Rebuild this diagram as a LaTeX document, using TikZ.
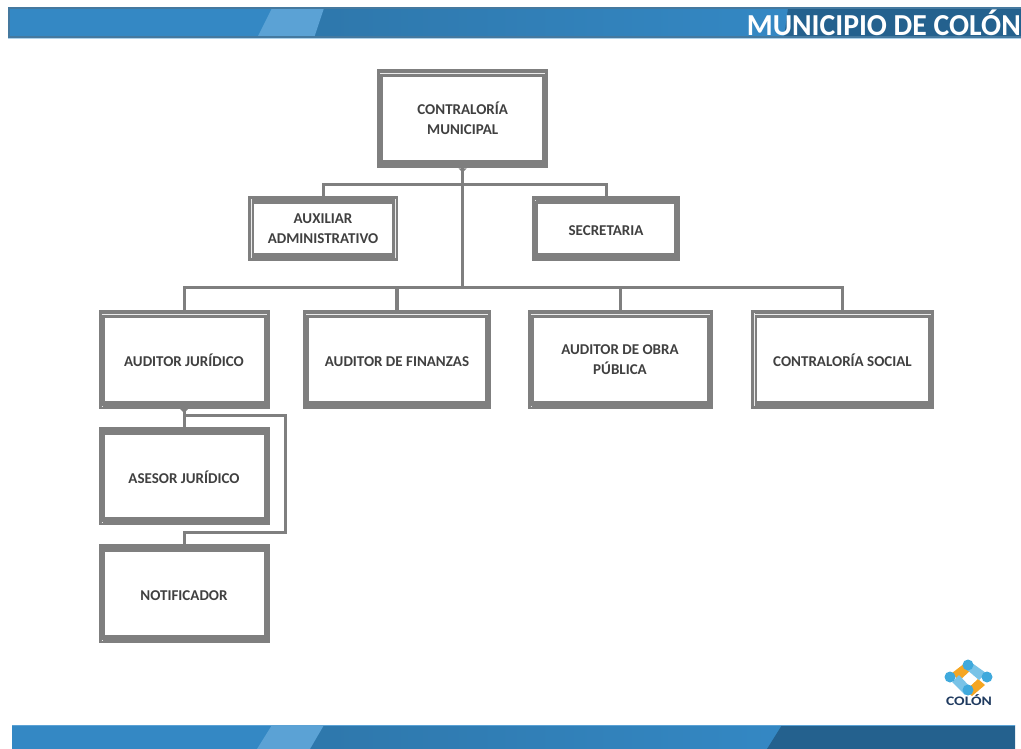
\documentclass[tikz,border=0pt]{standalone}
\usepackage{fontspec}
\setmainfont{Carlito}
\usetikzlibrary{calc, positioning}

\definecolor{boxgray}{HTML}{7F7F7F}
\definecolor{labelgray}{HTML}{404040}
\definecolor{bandblue}{HTML}{3488C4}
\definecolor{banddeep}{HTML}{2E77AB}
\definecolor{banddark}{HTML}{24618E}
\definecolor{bandlight}{HTML}{5BA2D5}
\definecolor{logoblue}{HTML}{3FA9DC}
\definecolor{logoorange}{HTML}{F5A623}
\definecolor{logonavy}{HTML}{1F3A5F}

\begin{document}
\begin{tikzpicture}[
    x=1pt, y=-1pt,
    nudge/.style={execute at begin node={\rule{0pt}{#1}}},
    orgbox/.style={fill=boxgray, text=labelgray, align=center, inner sep=0pt,
        outer sep=0pt, minimum width=171pt, minimum height=99pt, nudge=14pt,
        font=\fontsize{15}{20}\selectfont\bfseries,
        path picture={\fill[white]
            ($(path picture bounding box.south west)+(6pt,8pt)$) rectangle
            ($(path picture bounding box.north east)+(-6pt,-8pt)$);}},
    hairline/.style={draw=white!85!boxgray, line width=0.9pt},
    topline/.style={append after command={
        ([xshift=3pt,yshift=-4pt]\tikzlastnode.north west) edge[hairline]
        ([xshift=-3pt,yshift=-4pt]\tikzlastnode.north east)}},
    leftline/.style={append after command={
        ([xshift=3pt,yshift=-3pt]\tikzlastnode.north west) edge[hairline]
        ([xshift=3pt,yshift=3pt]\tikzlastnode.south west)}},
    rightline/.style={append after command={
        ([xshift=-3pt,yshift=-3pt]\tikzlastnode.north east) edge[hairline]
        ([xshift=-3pt,yshift=3pt]\tikzlastnode.south east)}},
    botdot/.style={append after command={
        ([xshift=3pt,yshift=3pt]\tikzlastnode.south west) edge[hairline]
        ([xshift=4.3pt,yshift=3pt]\tikzlastnode.south west)}},
    topdot/.style={append after command={
        ([xshift=3pt,yshift=-4pt]\tikzlastnode.north west) edge[hairline]
        ([xshift=4.3pt,yshift=-4pt]\tikzlastnode.north west)}},
    link/.style={draw=boxgray, line width=3pt}
]
\useasboundingbox (0,0) rectangle (1021,749);

% Bands
\fill[bandblue] (8,8) rectangle (300,38);
\fill[left color=banddeep, right color=bandblue] (300,8) rectangle (790,38);
\fill[bandlight] (272,8) -- (324,8) -- (314,38) -- (257,38) -- cycle;
\fill[banddark] (788,8) -- (1021,8) -- (1021,38) -- (784,38) -- cycle;
\fill[banddark!85!white] (8,7.5) rectangle (1021,9.5);
\fill[banddark!85!white] (8,36) rectangle (1021,38);
\fill[banddark!85!white] (8,7.5) rectangle (9.5,38);
\fill[bandlight!50!white] (8,38) rectangle (1021,39);
\fill[bandblue] (12,725) rectangle (300,749);
\fill[left color=banddeep, right color=bandblue] (300,725) rectangle (790,749);
\fill[bandlight] (272,725) -- (324,725) -- (310,749) -- (257,749) -- cycle;
\fill[banddark] (782,725) -- (1015,725) -- (1015,749) -- (767,749) -- cycle;
\fill[bandlight] (12,725) rectangle (1015,726);
\node[anchor=east, inner sep=0pt, text=white, xscale=.973, transform shape, font=\fontsize{30.5}{31}\selectfont\bfseries] (title) at (1021,23) {MUNICIPIO DE COLÓN};

% Logo
\fill[logoorange] (952,673) -- (965,663) -- (972,669) -- (959,681) -- cycle;
\fill[logoorange] (965,691) -- (978,679) -- (985,685) -- (972,696) -- cycle;
\fill[logoblue!70!white] (972,663) -- (986,673) -- (979,680) -- (966,669) -- cycle;
\fill[logoblue!70!white] (952,682) -- (959,675) -- (972,689) -- (965,695) -- cycle;
\fill[logoblue] (968,665) circle (5.5);
\fill[logoblue] (950,677) circle (5.5);
\fill[logoblue] (987,677) circle (5.5);
\fill[logoblue] (968,690) circle (5.5);
\node[inner sep=0pt, text=logonavy, xscale=1.2, transform shape, font=\fontsize{13}{13}\selectfont\bfseries] (logotext) at (969,700) {COLÓN};

% Nodes
\node[orgbox, topline, nudge=0pt] (contraloria) at (462.7,119) {CONTRALORÍA\\MUNICIPAL\rule[-2pt]{0pt}{1pt}};
\node[orgbox, leftline, rightline, nudge=13.7pt, minimum width=150pt, minimum height=64pt, below=28pt of contraloria, xshift=-139.7pt] (auxiliar) {AUXILIAR\\ADMINISTRATIVO};
\node[orgbox, topdot, nudge=10pt, minimum width=148pt, minimum height=64pt, below=28pt of contraloria, xshift=143.3pt] (secretaria) {SECRETARIA};

\node[orgbox, topline, botdot] (juridico) at (184,359.5) {AUDITOR JURÍDICO};
\node[orgbox, topline, minimum width=188pt, right=33.5pt of juridico] (finanzas) {AUDITOR DE FINANZAS};
\node[orgbox, topline, botdot, nudge=18pt, minimum width=185pt, right=36.5pt of finanzas] (obra) {AUDITOR DE OBRA\\PÚBLICA};
\node[orgbox, topline, leftline, minimum width=183pt, right=38.5pt of obra] (social) {CONTRALORÍA SOCIAL};

\node[orgbox, botdot, nudge=16pt, minimum height=98pt, below=18pt of juridico] (asesor) {ASESOR JURÍDICO};
\node[orgbox, botdot, below=19pt of asesor] (notificador) {NOTIFICADOR};

\coordinate (upperbus) at (462.7,185);
\coordinate (lowerbus) at (462.7,287);
\coordinate (sidestart) at (184,415.5);
\coordinate (sidecorner) at (285,415.5);
\coordinate (sideend) at (184,532);

% Lines - top
\draw[link] (contraloria.south) -- (lowerbus);
\draw[link] (auxiliar.north) -- (auxiliar.north |- upperbus) -- (secretaria.north |- upperbus) -- (secretaria.north);
\fill[boxgray] ([xshift=-4pt]contraloria.south) -- ([xshift=4pt]contraloria.south) -- ([yshift=-4pt]contraloria.south) -- cycle;

% Lines - auditors
\draw[link] (juridico.north) -- (juridico.north |- lowerbus) -- (social.north |- lowerbus) -- (social.north);
\draw[link, line width=4pt] (finanzas.north) -- (finanzas.north |- lowerbus);
\draw[link] (obra.north) -- (obra.north |- lowerbus);

% Lines - left column
\draw[link] (juridico.south) -- (asesor.north);
\draw[link] (sidestart) -- (sidecorner) |- (sideend) -- (notificador.north);
\fill[boxgray] ([xshift=-4pt]juridico.south) -- ([xshift=4pt]juridico.south) -- ([yshift=-4pt]juridico.south) -- cycle;

\end{tikzpicture}
\end{document}
